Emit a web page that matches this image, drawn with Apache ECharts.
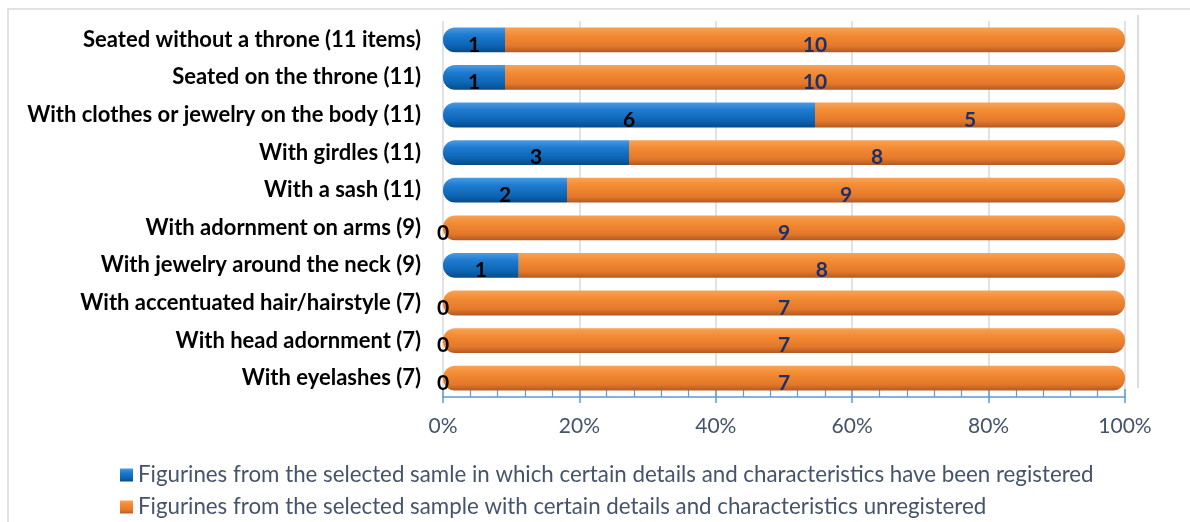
<!DOCTYPE html>
<html><head><meta charset="utf-8">
<script src="https://cdn.jsdelivr.net/npm/echarts@6/dist/echarts.min.js"></script>
<style>html,body{margin:0;padding:0;background:#fff}#c{width:1190px;height:522px}</style>
</head><body><div id="c"></div>
<script>
const categories = [
  'Seated without a throne (11 items)',
  'Seated on the throne (11)',
  'With clothes or jewelry on the body (11)',
  'With girdles (11)',
  'With a sash (11)',
  'With adornment on arms (9)',
  'With jewelry around the neck (9)',
  'With accentuated hair/hairstyle (7)',
  'With head adornment (7)',
  'With eyelashes (7)'
];
const registered = [1, 1, 6, 3, 2, 0, 1, 0, 0, 0];
const unregistered = [10, 10, 5, 8, 9, 9, 8, 7, 7, 7];
const seriesNames = [
  'Figurines from the selected samle in which certain details and characteristics have been registered',
  'Figurines from the selected sample with certain details and characteristics unregistered'
];
const xTicks = [0, 20, 40, 60, 80, 100];

const blueGrad = new echarts.graphic.LinearGradient(0,0,0,1,[
  {offset:0,color:'#4a9be2'},{offset:0.3,color:'#1f7bd0'},{offset:0.75,color:'#0b63b2'},{offset:1,color:'#084a86'}]);
const orangeGrad = new echarts.graphic.LinearGradient(0,0,0,1,[
  {offset:0,color:'#f7a359'},{offset:0.3,color:'#f38c34'},{offset:0.75,color:'#e4782a'},{offset:1,color:'#b05a25'}]);

const tot = registered.map((v,i)=>v+unregistered[i]);
const blueData = registered.map((v,i)=>({value: v/tot[i]*100, count: v}));
const orangeData = unregistered.map((v,i)=>({value: v/tot[i]*100, count: v,
  itemStyle: {borderRadius: registered[i]===0 ? [12,12,12,12] : [0,12,12,0]}}));

const legendText = {fontFamily:'Lato', fontSize:22.3, color:'#44546a'};
const chart = echarts.init(document.getElementById('c'));
chart.setOption({
  animation:false,
  grid:{left:443, right:65, top:21, bottom:125, containLabel:false},
  legend:[
    {left:115, top:459, itemWidth:13, itemHeight:13, itemGap:8, icon:'rect', textStyle:legendText, data:[seriesNames[0]]},
    {left:115, top:491, itemWidth:13, itemHeight:13, itemGap:8, icon:'rect', textStyle:legendText, data:[seriesNames[1]]}
  ],
  xAxis:[{
    type:'value', min:0, max:100, interval:20,
    axisLabel:{formatter:'{value}%', fontFamily:'Lato', fontSize:21, color:'#44546a', margin:19},
    axisLine:{show:true, lineStyle:{color:'#5b9bd5', width:1.5}},
    axisTick:{show:true, inside:true, length:8, lineStyle:{color:'#5b9bd5', width:1.5}},
    minorTick:{show:true, splitNumber:5, length:7, lineStyle:{color:'#5b9bd5', width:1.2}},
    splitLine:{show:true, lineStyle:{color:'#d9d9d9', width:1.5}}
  },{
    type:'value', min:0, max:100, interval:20, position:'bottom',
    axisLabel:{show:false}, axisLine:{show:false}, splitLine:{show:false},
    axisTick:{show:true, length:6, lineStyle:{color:'#5b9bd5', width:1.5}}
  }],
  yAxis:{
    type:'category', data:categories, inverse:true,
    axisLine:{show:false}, axisTick:{show:false},
    axisLabel:{fontFamily:'Lato', fontWeight:'bold', fontSize:22, color:'#000', margin:22}
  },
  series:[{
    name:seriesNames[0], type:'bar', stack:'a', barWidth:'66%',
    itemStyle:{color:blueGrad, borderRadius:[12,0,0,12]},
    label:{show:true, position:'inside', formatter:p=>p.data.count, fontFamily:'Lato', fontWeight:'bold', fontSize:21, color:'#000', offset:[0,5]},
    data:blueData
  },{
    name:seriesNames[1], type:'bar', stack:'a', barWidth:'66%',
    itemStyle:{color:orangeGrad},
    label:{show:true, position:'inside', formatter:p=>p.data.count, fontFamily:'Lato', fontWeight:'bold', fontSize:21, color:'#1f3067', offset:[0,5]},
    data:orangeData
  }],
  graphic:[
    {type:'rect', shape:{x:8, y:9, width:1200, height:600}, style:{fill:'none', stroke:'#d9d9d9', lineWidth:1.5}, silent:true},
    {type:'line', shape:{x1:1138, y1:15, x2:1138, y2:388}, style:{stroke:'#d0d0d0', lineWidth:1.5}, silent:true}
  ]
});
</script>
</body></html>
